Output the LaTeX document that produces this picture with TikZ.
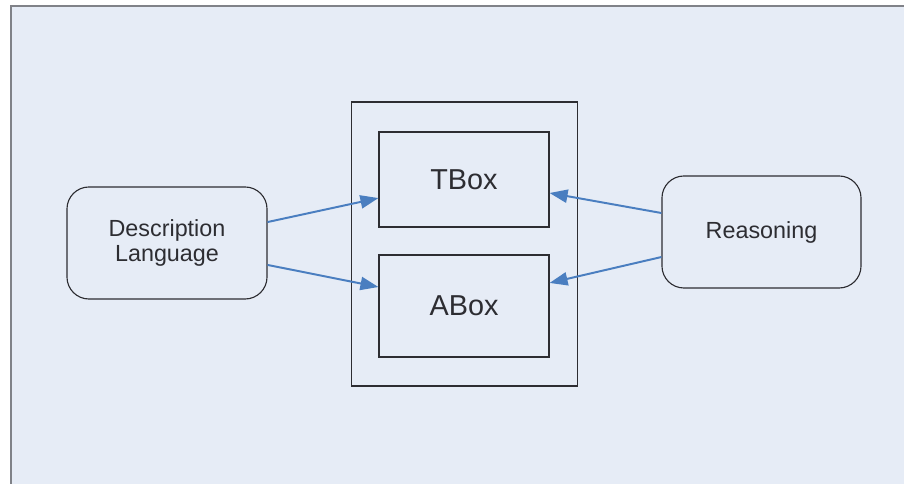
\documentclass[tikz,border=0pt]{standalone}
\usepackage{fontspec}
\setmainfont{Liberation Sans}
\usetikzlibrary{arrows.meta}

\definecolor{bgblue}{RGB}{230,236,246}
\definecolor{framegray}{RGB}{128,130,136}
\definecolor{boxgray}{RGB}{45,45,50}
\definecolor{arcblue}{RGB}{74,126,192}

\tikzset{
	box/.style={draw=boxgray, line width=0.8pt, text=boxgray, align=center, inner sep=0pt},
	roundbox/.style={box, rounded corners=0.55cm, font=\fontsize{16.6}{17.8}\selectfont},
	kbox/.style={box, minimum width=4.25cm, font=\fontsize{20.5}{24}\selectfont},
	arc/.style={draw=arcblue, line width=1.4pt, -{Triangle[length=0.45cm, width=0.33cm]}},
}

\begin{document}
\begin{tikzpicture}[x=0.025cm, y=-0.025cm]

% BACKGROUND
\useasboundingbox (0,0) rectangle (904,484);
\fill[bgblue] (10,5) rectangle (904,484);
\draw[framegray, line width=1.6pt] (11,484) -- (11,6) -- (904,6);

% NODES
\node[box, minimum width=5.65cm, minimum height=7.1cm](kb) at(464.5, 244) {};
\node[kbox, minimum height=2.375cm](tbox) at(464, 179.5) {TBox};
\node[kbox, minimum height=2.55cm](abox) at(464, 306) {ABox};

\node[roundbox, minimum width=5cm, minimum height=2.8cm](dl) at(167, 243) {Description\\Language};
\node[roundbox, minimum width=4.975cm, minimum height=2.8cm](reas) at(761.5, 232) {Reasoning};

% ARCS
\draw[arc] ([yshift=14.9pt]dl.east) -- ([yshift=-13.2pt]tbox.west);
\draw[arc] ([yshift=-15.6pt]dl.east) -- ([yshift=13.5pt]abox.west);
\draw[arc] ([yshift=13.5pt]reas.west) -- ([yshift=-9.6pt]tbox.east);
\draw[arc] ([yshift=-17.8pt]reas.west) -- ([yshift=16.4pt]abox.east);

\end{tikzpicture}
\end{document}
